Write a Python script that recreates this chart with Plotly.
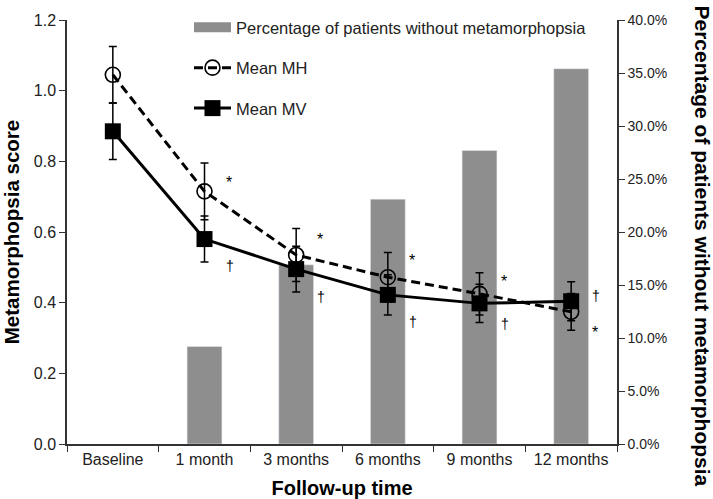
import plotly.graph_objects as go

# Follow-up categories
CATEGORIES = ["Baseline", "1 month", "3 months", "6 months", "9 months", "12 months"]

# Percentage of patients without metamorphopsia (right axis)
PCT_WITHOUT = [None, 0.092, 0.169, 0.231, 0.277, 0.354]

# Mean metamorphopsia score, horizontal (MH) and vertical (MV)
MEAN_MH = [1.045, 0.715, 0.535, 0.472, 0.425, 0.374]
ERR_MH = [0.08, 0.08, 0.075, 0.07, 0.06, 0.052]
MEAN_MV = [0.885, 0.58, 0.495, 0.422, 0.398, 0.404]
ERR_MV = [0.08, 0.065, 0.065, 0.057, 0.054, 0.055]

# Significance markers (score-axis position of each symbol)
STAR_Y = [None, 0.74, 0.58, 0.52, 0.46, 0.315]
DAGGER_Y = [None, 0.505, 0.415, 0.345, 0.34, 0.42]

FONT = "Liberation Sans, Arial, sans-serif"
AXIS_COLOR = "#333333"
BAR_COLOR = "#8e8e8e"

fig = go.Figure()

# bars on the primary (right-hand) axis so the lines are drawn on top
fig.add_trace(go.Bar(
    x=CATEGORIES, y=PCT_WITHOUT, marker_color=BAR_COLOR,
    width=0.38, showlegend=False, yaxis="y",
))
# legend proxy for the bars (wide grey swatch)
fig.add_trace(go.Scatter(
    x=[None], y=[None], mode="lines", name="Percentage of patients without metamorphopsia",
    line=dict(color=BAR_COLOR, width=11), legendgroup="a", yaxis="y",
))

fig.add_trace(go.Scatter(
    x=CATEGORIES, y=MEAN_MH, name="Mean MH", yaxis="y2", legendgroup="b",
    mode="lines+markers",
    line=dict(color="black", width=3, dash="9px,5px"),
    marker=dict(symbol="circle-open", size=15, color="black", line=dict(width=1.6)),
    error_y=dict(type="data", array=ERR_MH, color="black", thickness=1.5, width=4),
))
fig.add_trace(go.Scatter(
    x=CATEGORIES, y=MEAN_MV, name="Mean MV", yaxis="y2", legendgroup="c",
    mode="lines+markers",
    line=dict(color="black", width=3),
    marker=dict(symbol="square", size=16, color="black"),
    error_y=dict(type="data", array=ERR_MV, color="black", thickness=1.5, width=4),
))

annotations = []
for cat, sy, dy in zip(CATEGORIES, STAR_Y, DAGGER_Y):
    if sy is not None:
        annotations.append(dict(x=cat, y=sy, xref="x", yref="y2", text="*", showarrow=False,
                                xshift=24, font=dict(size=16, color="black", family=FONT)))
    if dy is not None:
        annotations.append(dict(x=cat, y=dy, xref="x", yref="y2", text="†", showarrow=False,
                                xshift=25, font=dict(size=14, color="black", family=FONT)))

# right axis title, placed by hand so it can run the full height like the original
annotations.append(dict(
    x=1, y=0.467, xref="paper", yref="paper", xanchor="left", yanchor="middle",
    xshift=72, text="<b>Percentage of patients without metamorphopsia</b>", textangle=90,
    showarrow=False, font=dict(size=21, color="black", family=FONT),
))

fig.update_layout(
    width=713, height=499,
    margin=dict(l=67, r=96, t=20, b=55, autoexpand=False),
    plot_bgcolor="white", paper_bgcolor="white",
    font=dict(family=FONT, color="#222222", size=16),
    bargap=0.62,
    showlegend=True,
    legend=dict(
        x=0.2218, y=1.0236, xanchor="left", yanchor="top", itemwidth=37,
        bgcolor="rgba(0,0,0,0)", traceorder="grouped", tracegroupgap=16,
        font=dict(size=16.5, color="#222222"),
    ),
    xaxis=dict(
        type="category", categoryorder="array", categoryarray=CATEGORIES, automargin=False,
        showline=True, linecolor=AXIS_COLOR, linewidth=1.5,
        ticks="outside", tickson="boundaries", ticklen=6, tickcolor=AXIS_COLOR,
        tickfont=dict(size=16),
        title=dict(text="<b>Follow-up time</b>", font=dict(size=20, color="black"), standoff=14),
    ),
    yaxis=dict(
        side="right", range=[0, 0.4], dtick=0.05, tickformat=".1%", automargin=False,
        showline=True, linecolor=AXIS_COLOR, linewidth=1.5, showgrid=False, zeroline=False,
        ticks="outside", ticklen=6, tickcolor=AXIS_COLOR, tickfont=dict(size=14),
    ),
    yaxis2=dict(
        side="left", overlaying="y", range=[0, 1.2], dtick=0.2, tickformat=".1f", automargin=False,
        showline=True, linecolor=AXIS_COLOR, linewidth=1.5, showgrid=False, zeroline=False,
        ticks="outside", ticklen=6, tickcolor=AXIS_COLOR, tickfont=dict(size=16),
        title=dict(text="<b>Metamorphopsia score</b>", font=dict(size=20.5, color="black"), standoff=12),
    ),
    annotations=annotations,
)

# drop the page's default body margin so the 713x499 figure sits at the window origin
fig.write_html(
    "out.html",
    config={"displayModeBar": False},
    post_script="document.body.style.margin='0';",
)
